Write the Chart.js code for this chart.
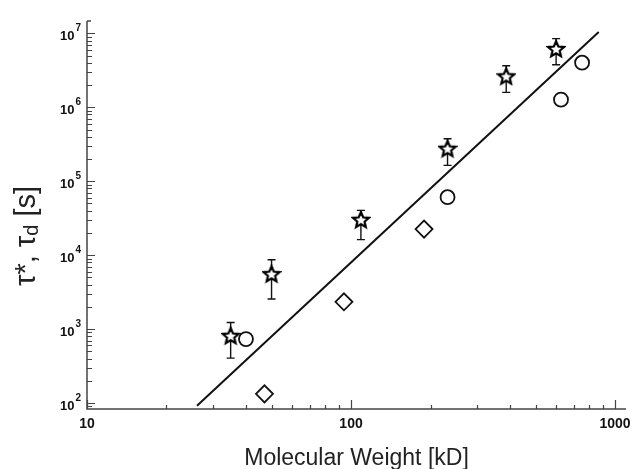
<!DOCTYPE html>
<html>
<head>
<meta charset="utf-8">
<script src="https://cdn.jsdelivr.net/npm/chart.js@4/dist/chart.umd.min.js"></script>
<style>
  html, body { margin: 0; padding: 0; background: #fff; }
  #wrap { width: 644px; height: 469px; position: relative; }
</style>
</head>
<body>
<div id="wrap"><canvas id="c" width="644" height="469"></canvas></div>
<script>
// ---- data ----
const starX = [35, 50, 109, 232, 387, 598];
const starY = [810, 5550, 30100, 275000, 2620000, 6150000];
const starErrLow = [405, 2550, 16200, 164000, 1590000, 3770000];
const starErrHigh = [1230, 8670, 40300, 376000, 3650000, 8480000];
const circleX = [40, 232, 624, 750];
const circleY = [732, 60800, 1270000, 4010000];
const diamondX = [47, 94, 189];
const diamondY = [133, 2340, 22500];
const fitX = [26.1, 867];
const fitY = [91.6, 10450000];
const xTickValues = [10, 100, 1000];
const xTickLabels = ['10', '100', '1000'];
const yTickExponents = [2, 3, 4, 5, 6, 7];
const xTitle = 'Molecular Weight [kD]';

const pts = (xs, ys) => xs.map((x, i) => ({ x: x, y: ys[i] }));

// five-pointed hollow star marker
function makeStar() {
  const c = document.createElement('canvas');
  c.width = 20; c.height = 20;
  const g = c.getContext('2d');
  const cx = 10, cy = 10.6, R = 8.3, r = 3.8;
  g.beginPath();
  for (let i = 0; i < 10; i++) {
    const a = -Math.PI / 2 + i * Math.PI / 5;
    const rr = i % 2 === 0 ? R : r;
    const px = cx + rr * Math.cos(a), py = cy + rr * Math.sin(a);
    if (i === 0) g.moveTo(px, py); else g.lineTo(px, py);
  }
  g.closePath();
  g.fillStyle = '#fff';
  g.fill();
  g.lineWidth = 2.2;
  g.lineJoin = 'miter';
  g.strokeStyle = '#000';
  g.stroke();
  return c;
}
const starImg = makeStar();

const AXIS_COLOR = '#444';

const decorPlugin = {
  id: 'decor',
  beforeDatasetsDraw(chart) {
    const ctx = chart.ctx, xs = chart.scales.x, ys = chart.scales.y;
    ctx.save();
    ctx.strokeStyle = '#111';
    ctx.lineWidth = 1.4;
    starX.forEach((xv, i) => {
      const px = xs.getPixelForValue(xv);
      const y1 = ys.getPixelForValue(starErrHigh[i]);
      const y2 = ys.getPixelForValue(starErrLow[i]);
      ctx.beginPath();
      ctx.moveTo(px, y1); ctx.lineTo(px, y2);
      ctx.moveTo(px - 4, y1); ctx.lineTo(px + 4, y1);
      ctx.moveTo(px - 4, y2); ctx.lineTo(px + 4, y2);
      ctx.stroke();
    });
    ctx.restore();
  },
  afterDraw(chart) {
    const ctx = chart.ctx, xs = chart.scales.x, ys = chart.scales.y;
    const a = chart.chartArea;
    ctx.save();
    ctx.strokeStyle = AXIS_COLOR;
    ctx.lineWidth = 1.5;
    ctx.beginPath();
    ctx.moveTo(a.left, a.top); ctx.lineTo(a.left, a.bottom); ctx.lineTo(a.right, a.bottom);
    ctx.moveTo(a.left, a.top); ctx.lineTo(a.left + 4, a.top);
    ctx.stroke();
    ctx.lineWidth = 1.2;
    ctx.beginPath();
    for (let e = 1; e <= 3; e++) {
      for (let m = 1; m <= 9; m++) {
        const v = m * Math.pow(10, e);
        if (v < xs.min || v > xs.max) continue;
        const px = Math.round(xs.getPixelForValue(v)) + 0.5;
        const len = m === 1 ? 9 : 4;
        ctx.moveTo(px, a.bottom); ctx.lineTo(px, a.bottom - len);
      }
    }
    for (let e = 1; e <= 7; e++) {
      for (let m = 1; m <= 9; m++) {
        const v = m * Math.pow(10, e);
        if (v < ys.min || v > ys.max) continue;
        const py = Math.round(ys.getPixelForValue(v)) + 0.5;
        const len = m === 1 ? 8 : 5;
        ctx.moveTo(a.left, py); ctx.lineTo(a.left + len, py);
      }
    }
    ctx.stroke();
    ctx.fillStyle = '#111';
    ctx.font = 'bold 14px "Liberation Sans", Arial, sans-serif';
    ctx.textAlign = 'center';
    ctx.textBaseline = 'middle';
    xTickValues.forEach((v, i) => {
      ctx.fillText(xTickLabels[i], xs.getPixelForValue(v), 424.5);
    });
    yTickExponents.forEach(e => {
      const py = ys.getPixelForValue(Math.pow(10, e));
      ctx.font = 'bold 10px "Liberation Sans", Arial, sans-serif';
      const ew = ctx.measureText(String(e)).width;
      const right = a.left - 6;
      ctx.textAlign = 'left';
      ctx.textBaseline = 'alphabetic';
      ctx.fillText(String(e), right - ew, py - 2);
      ctx.font = 'bold 13px "Liberation Sans", Arial, sans-serif';
      ctx.textAlign = 'right';
      ctx.fillText('10', right - ew - 1, py + 6.5);
    });
    ctx.font = '23px "Liberation Sans", Arial, sans-serif';
    ctx.textAlign = 'center';
    ctx.textBaseline = 'alphabetic';
    ctx.fillStyle = '#222';
    ctx.fillText(xTitle, (a.left + a.right) / 2, 465);
    ctx.translate(35, 236);
    ctx.rotate(-Math.PI / 2);
    const big = '29px "Liberation Sans", Arial, sans-serif';
    const small = '20px "Liberation Sans", Arial, sans-serif';
    const parts = [
      { t: 'τ*, τ', f: big, dy: 0 },
      { t: 'd', f: small, dy: 3 },
      { t: ' [s]', f: big, dy: 0 }
    ];
    let total = 0;
    parts.forEach(p => { ctx.font = p.f; p.w = ctx.measureText(p.t).width; total += p.w; });
    let x0 = -total / 2;
    ctx.textAlign = 'left';
    parts.forEach(p => { ctx.font = p.f; ctx.fillText(p.t, x0, p.dy); x0 += p.w; });
    ctx.restore();
  }
};

new Chart(document.getElementById('c'), {
  type: 'scatter',
  data: {
    datasets: [
      {
        label: 'fit',
        data: pts(fitX, fitY),
        showLine: true,
        borderColor: '#111',
        borderWidth: 2,
        pointRadius: 0,
        fill: false,
        order: 3
      },
      {
        label: 'tau* (stars)',
        data: pts(starX, starY),
        pointStyle: starImg,
        pointRadius: 8,
        order: 1
      },
      {
        label: 'circles',
        data: pts(circleX, circleY),
        pointStyle: 'circle',
        pointRadius: 7,
        pointBackgroundColor: '#fff',
        pointBorderColor: '#111',
        pointBorderWidth: 1.8,
        order: 2
      },
      {
        label: 'diamonds',
        data: pts(diamondX, diamondY),
        pointStyle: 'rectRot',
        pointRadius: 8.5,
        pointBackgroundColor: '#fff',
        pointBorderColor: '#111',
        pointBorderWidth: 1.8,
        order: 2
      }
    ]
  },
  options: {
    responsive: false,
    animation: false,
    layout: { padding: { top: 21, right: 18, left: 0, bottom: 0 } },
    plugins: { legend: { display: false }, tooltip: { enabled: false } },
    scales: {
      x: {
        type: 'logarithmic',
        min: 10, max: 1100,
        ticks: { display: false },
        grid: { display: false },
        border: { display: false },
        afterFit(s) { s.height = 60; }
      },
      y: {
        type: 'logarithmic',
        min: 83, max: 14700000,
        ticks: { display: false },
        grid: { display: false },
        border: { display: false },
        afterFit(s) { s.width = 87; }
      }
    }
  },
  plugins: [decorPlugin]
});
</script>
</body>
</html>
